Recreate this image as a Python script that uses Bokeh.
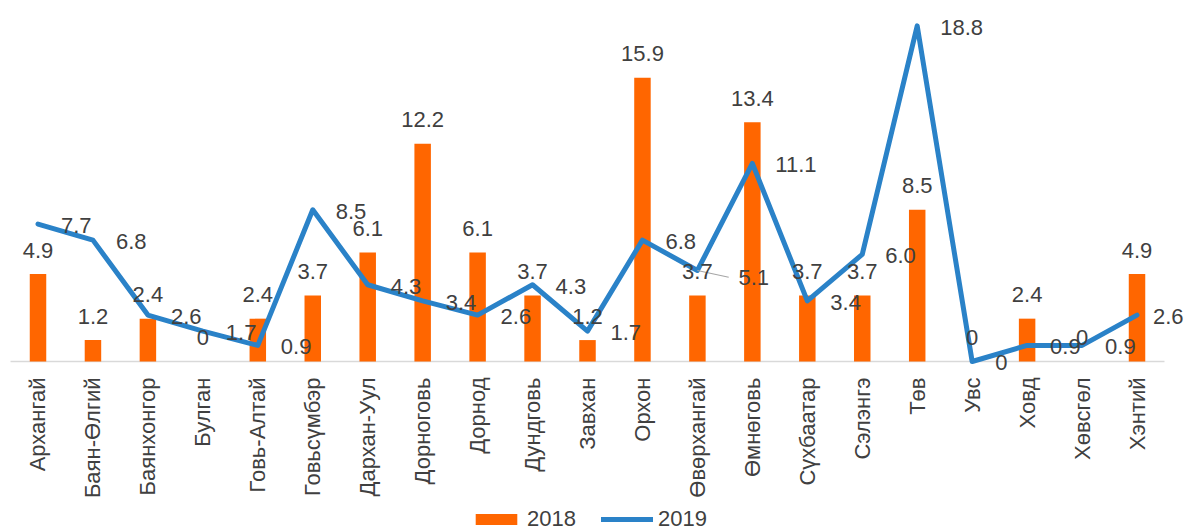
from math import pi
from bokeh.plotting import figure
from bokeh.models import (ColumnDataSource, LabelSet, Legend, LegendItem,
                          Range1d)
from bokeh.core.properties import value
from bokeh.embed import file_html
from bokeh.resources import INLINE

aimags = ["Архангай", "Баян-Өлгий", "Баянхонгор", "Булган", "Говь-Алтай",
          "Говьсүмбэр", "Дархан-Уул", "Дорноговь", "Дорнод", "Дундговь",
          "Завхан", "Орхон", "Өвөрхангай", "Өмнөговь", "Сүхбаатар",
          "Сэлэнгэ", "Төв", "Увс", "Ховд", "Хөвсгөл", "Хэнтий"]
values_2018 = [4.9, 1.2, 2.4, 0, 2.4, 3.7, 6.1, 12.2, 6.1, 3.7, 1.2, 15.9,
               3.7, 13.4, 3.7, 3.7, 8.5, 0, 2.4, 0, 4.9]
values_2019 = [7.7, 6.8, 2.6, 1.7, 0.9, 8.5, 4.3, 3.4, 2.6, 4.3, 1.7, 6.8,
               5.1, 11.1, 3.4, 6.0, 18.8, 0, 0.9, 0.9, 2.6]
series_names = ["2018", "2019"]
moved_label = "Өвөрхангай"

FONT = "Liberation Sans"
TXT = "#404040"
ORANGE = "#FF6600"
BLUE = "#2A82C8"


def fmt(v):
    return "0" if v == 0 else f"{v:.1f}"


xs = list(range(len(aimags)))

p = figure(width=1188, height=526,
           x_range=Range1d(-0.6825, 20.937), y_range=Range1d(-9.244, 20.224),
           output_backend="svg", toolbar_location=None,
           min_border_left=0, min_border_right=0, min_border_top=0,
           min_border_bottom=0)
p.outline_line_color = None
p.background_fill_color = "white"
p.border_fill_color = "white"
p.xgrid.visible = False
p.ygrid.visible = False
p.xaxis.visible = False
p.yaxis.visible = False

# category axis: baseline and rotated category labels
p.segment(x0=[xs[0] - 0.5], y0=[0], x1=[xs[-1] + 0.5], y1=[0],
          line_color="#D9D9D9", line_width=1.5)
csrc = ColumnDataSource(dict(x=xs, y=[0] * len(xs), t=aimags))
p.add_layout(LabelSet(x="x", y="y", text="t", source=csrc, angle=pi / 2,
                      text_align="right", text_baseline="middle",
                      y_offset=-16, text_font=value(FONT),
                      text_font_size=value("22px"), text_color=TXT))

src = ColumnDataSource(dict(
    x=xs, b=values_2018, l=values_2019,
    bt=[fmt(v) for v in values_2018],
))

bars = p.vbar(x="x", top="b", width=0.3, source=src, fill_color=ORANGE,
              line_color=None)
line = p.line(x="x", y="l", source=src, line_color=BLUE, line_width=5,
              line_join="round", line_cap="round")

# leader line for the moved label
k = aimags.index(moved_label)
p.segment(x0=[xs[k]], y0=[values_2019[k]], x1=[xs[k] + 0.57],
          y1=[values_2019[k] - 0.38], line_color="#A6A6A6", line_width=1.2)

bar_labels = LabelSet(x="x", y="b", text="bt", source=src, text_align="center",
                      text_baseline="middle", y_offset=24,
                      text_font=value(FONT), text_font_size=value("22px"),
                      text_color=TXT)
p.add_layout(bar_labels)

last = xs[-1]
idx = [i for i in xs if i not in (k, last)]
lsrc = ColumnDataSource(dict(x=idx, y=[values_2019[i] for i in idx],
                             t=[fmt(values_2019[i]) for i in idx]))
p.add_layout(LabelSet(x="x", y="y", text="t", source=lsrc, text_align="left",
                      text_baseline="middle", x_offset=23, y_offset=-1.5,
                      text_font=value(FONT), text_font_size=value("22px"),
                      text_color=TXT))

msrc = ColumnDataSource(dict(x=[xs[k]], y=[values_2019[k]],
                             t=[fmt(values_2019[k])]))
p.add_layout(LabelSet(x="x", y="y", text="t", source=msrc, text_align="left",
                      text_baseline="middle", x_offset=41, y_offset=-7,
                      text_font=value(FONT), text_font_size=value("22px"),
                      text_color=TXT))

esrc = ColumnDataSource(dict(x=[last], y=[values_2019[last]],
                             t=[fmt(values_2019[last])]))
p.add_layout(LabelSet(x="x", y="y", text="t", source=esrc, text_align="left",
                      text_baseline="middle", x_offset=16, y_offset=-1.5,
                      text_font=value(FONT), text_font_size=value("22px"),
                      text_color=TXT))

legend = Legend(items=[LegendItem(label=series_names[0], renderers=[bars]),
                       LegendItem(label=series_names[1], renderers=[line])],
                orientation="horizontal", location=(470, -6),
                glyph_width=52, glyph_height=14, label_standoff=5, spacing=25,
                padding=0, margin=0, border_line_color=None,
                background_fill_alpha=0, label_text_font=FONT,
                label_text_font_size="22px", label_text_color=TXT)
p.add_layout(legend, "center")

open("out.html", "w").write(file_html(p, INLINE))
